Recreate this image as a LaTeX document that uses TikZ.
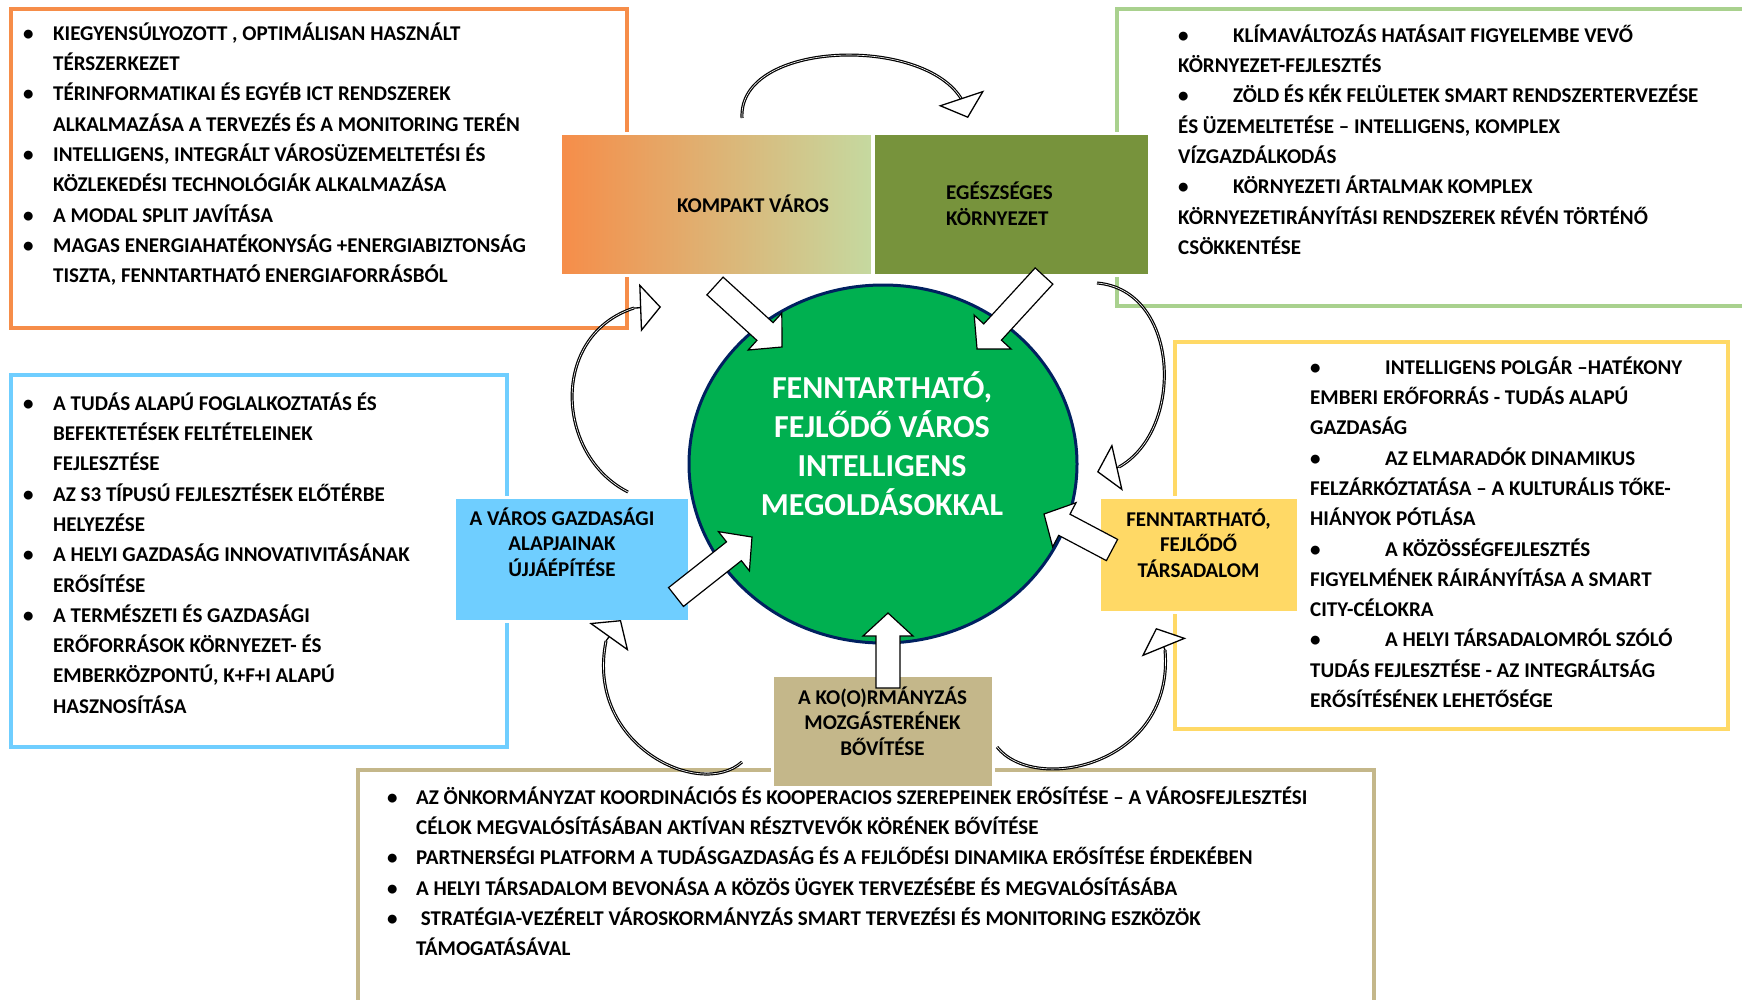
\documentclass[tikz,border=0pt]{standalone}
\usepackage{fontspec}
\setmainfont{Carlito}
\usetikzlibrary{calc,arrows.meta,shapes.geometric}

\definecolor{orng}{RGB}{246,141,73}
\definecolor{paleg}{RGB}{197,217,160}
\definecolor{leafg}{RGB}{119,147,60}
\definecolor{frameg}{RGB}{169,209,142}
\definecolor{skyb}{RGB}{111,206,255}
\definecolor{sunny}{RGB}{255,217,102}
\definecolor{sand}{RGB}{196,183,138}
\definecolor{ringg}{RGB}{0,176,80}
\definecolor{ringb}{RGB}{0,32,96}

\newcommand\bul[1]{\rule{0pt}{20pt}\makebox[#1][l]{\textbullet}}
\newcommand\indnt[1]{\hspace*{#1}}
\newcommand\topstr[1]{\rule{0pt}{#1}}
\newcommand\botstr[1]{\rule[-#1]{0pt}{#1}}
\newcommand\blockarr[2]{%
  \path let \p1=($(#2)-(#1)$) in
    \pgfextra{\pgfmathsetmacro\arrang{atan2(\y1,\x1)}%
              \pgfmathsetmacro\arrlen{veclen(\x1,\y1)}%
              \global\let\arrang\arrang \global\let\arrlen\arrlen};
  \draw[blockarrow,shift={(#1)},rotate=\arrang]
    (0pt,-12pt) -- (\arrlen pt-23pt,-12pt) -- (\arrlen pt-23pt,-25pt) -- (\arrlen pt,0pt)
    -- (\arrlen pt-23pt,25pt) -- (\arrlen pt-23pt,12pt) -- (0pt,12pt) -- cycle;}

\begin{document}
\begin{tikzpicture}[x=1pt,y=-1pt,
  frame/.style={line width=3.5pt},
  lista/.style={anchor=north west,inner sep=0pt,align=left,
    font=\fontsize{21}{30.3}\selectfont\bfseries},
  tile/.style={draw=white,line width=3pt,inner sep=0pt},
  tiletext/.style={inner sep=0pt,font=\fontsize{21}{25.5}\selectfont\bfseries},
  blockarrow/.style={draw=black,fill=white,line width=1.2pt,line join=miter},
  loopline/.style={draw=black,line width=1.2pt,double=white,double distance=.6pt},
  loophead/.style={line width=1.3pt,-{Triangle[length=21pt,width=48pt,fill=white]}}]
\useasboundingbox (0,0) rectangle (1742,999);

\draw[frame,orng] (11,9) rectangle (627,328);
\draw[frame,frameg] (1117,9) rectangle (1770,306);
\draw[frame,sunny] (1175,342) rectangle (1728,729);
\draw[frame,skyb] (11,375) rectangle (507,747);
\draw[frame,sand] (358,770) rectangle (1374,1020);

\node (kompakt) [tile,minimum width=312pt,minimum height=142pt,left color=orng,right color=paleg,
  label={[tiletext,xshift=36.5pt,yshift=-1.5pt]center:{\topstr{20pt}KOMPAKT VÁROS\botstr{7pt}}}]
  at (716.5,204) {};
\node (egesz) [tile,fill=leafg,minimum width=276pt,minimum height=142pt,
  label={[tiletext,align=left,xshift=-12pt,yshift=-2pt]center:{\topstr{20pt}EGÉSZSÉGES\\KÖRNYEZET\botstr{7pt}}}]
  at (1011.5,204) {};
\node (gazdasag) [tile,fill=skyb,minimum width=235pt,minimum height=124pt,
  label={[tiletext,align=center,xshift=-9.5pt,yshift=15pt]center:{\topstr{20pt}A VÁROS GAZDASÁGI\\ALAPJAINAK\\ÚJJÁÉPÍTÉSE\botstr{7pt}}}]
  at (571.5,559) {};
\node (tarsad) [tile,fill=sunny,minimum width=199pt,minimum height=115pt,
  label={[tiletext,align=center,yshift=9.5pt]center:{\topstr{20pt}FENNTARTHATÓ,\\FEJLŐDŐ\\TÁRSADALOM\botstr{7pt}}}]
  at (1198.5,554.5) {};
\node (kormany) [tile,fill=sand,minimum width=221pt,minimum height=112pt,
  label={[tiletext,align=center,yshift=8pt]center:{\topstr{20pt}A KO(O)RMÁNYZÁS\\MOZGÁSTERÉNEK\\BŐVÍTÉSE\botstr{7pt}}}]
  at (882.5,731) {};

\node (ring) [ellipse,draw=ringb,line width=3pt,fill=ringg,minimum width=388pt,minimum height=358pt,inner sep=0pt,
  label={[inner sep=0pt,text=white,font=\fontsize{32}{39}\selectfont\bfseries,align=center,xshift=-1pt,yshift=18pt]center:{\topstr{30pt}FENNTARTHATÓ,\\FEJLŐDŐ VÁROS\\INTELLIGENS\\MEGOLDÁSOKKAL\botstr{9pt}}}]
  at (883,464) {};

\path (kompakt.center) +(-1.5,82) coordinate (kvo);
\path (ring.center) +(-101,-117) coordinate (kvi);
\blockarr{kvo}{kvi}
\path (egesz.center) +(32.5,72) coordinate (ego);
\path (ring.center) +(94,-115) coordinate (egi);
\blockarr{ego}{egi}
\path (gazdasag.center) +(104.5,38) coordinate (gzo);
\path (ring.center) +(-131,73) coordinate (gzi);
\blockarr{gzo}{gzi}
\path (tarsad.center) +(-86.5,-4.5) coordinate (tso);
\path (ring.center) +(161,50) coordinate (tsi);
\blockarr{tso}{tsi}
\path (kormany.center) +(5.5,-43) coordinate (kro);
\path (ring.center) +(5,149) coordinate (kri);
\blockarr{kro}{kri}

\path (kompakt.center) +(25.5,-86) coordinate (kvu);
\path (egesz.center) +(-49.5,-104) coordinate (egu);
\path (egesz.center) +(-43.5,-86) coordinate (egt);
\draw[loopline] (kvu) .. controls +(-4,-78) and +(-37,-65) .. (egu);
\draw[loophead] (egu) -- (egt);
\path (egesz.center) +(85.5,79) coordinate (egr);
\path (tarsad.center) +(-79.5,-87.5) coordinate (tsu);
\path (tarsad.center) +(-101.5,-82.5) coordinate (tst);
\draw[loopline] (egr) .. controls +(83,7) and +(66,-37) .. (tsu);
\draw[loophead] (tsu) -- (tst);
\path (kormany.center) +(114.5,16) coordinate (krr);
\path (tarsad.center) +(-33.5,95.5) coordinate (tsl);
\path (tarsad.center) +(-42.5,73.5) coordinate (tsm);
\draw[loopline] (krr) .. controls +(38,48) and +(10,115) .. (tsl);
\draw[loophead] (tsl) -- (tsm);
\path (kormany.center) +(-140.5,31) coordinate (krl);
\path (gazdasag.center) +(34.5,82) coordinate (gzl);
\path (gazdasag.center) +(49.5,61) coordinate (gzm);
\draw[loopline] (krl) .. controls +(-42,38) and +(-21,104) .. (gzl);
\draw[loophead] (gzl) -- (gzm);
\path (gazdasag.center) +(56.5,-67) coordinate (gzu);
\path (kompakt.center) +(-82.5,104) coordinate (kvl);
\path (kompakt.center) +(-55.5,103) coordinate (kvm);
\draw[loopline] (gzu) .. controls +(-73,-37) and +(-84,27) .. (kvl);
\draw[loophead] (kvl) -- (kvm);

\node (kvlista) [lista] at (23,20) {\bul{30pt}KIEGYENSÚLYOZOTT , OPTIMÁLISAN HASZNÁLT\\
  \indnt{30pt}TÉRSZERKEZET\\
  \bul{30pt}TÉRINFORMATIKAI ÉS  EGYÉB ICT RENDSZEREK\\
  \indnt{30pt}ALKALMAZÁSA A TERVEZÉS ÉS A MONITORING TERÉN\\
  \bul{30pt}INTELLIGENS, INTEGRÁLT VÁROSÜZEMELTETÉSI  ÉS\\
  \indnt{30pt}KÖZLEKEDÉSI TECHNOLÓGIÁK ALKALMAZÁSA\\
  \bul{30pt}A MODAL SPLIT JAVÍTÁSA\\
  \bul{30pt}MAGAS ENERGIAHATÉKONYSÁG +ENERGIABIZTONSÁG\\
  \indnt{30pt}TISZTA, FENNTARTHATÓ ENERGIAFORRÁSBÓL};
\node (eglista) [lista] at (1178,22) {\bul{55pt}KLÍMAVÁLTOZÁS HATÁSAIT FIGYELEMBE VEVŐ\\
  KÖRNYEZET-FEJLESZTÉS\\
  \bul{55pt}ZÖLD ÉS KÉK FELÜLETEK SMART RENDSZERTERVEZÉSE\\
  ÉS ÜZEMELTETÉSE – INTELLIGENS, KOMPLEX\\
  VÍZGAZDÁLKODÁS\\
  \bul{55pt}KÖRNYEZETI ÁRTALMAK KOMPLEX\\
  KÖRNYEZETIRÁNYÍTÁSI RENDSZEREK RÉVÉN TÖRTÉNŐ\\
  CSÖKKENTÉSE};
\node (tslista) [lista] at (1310,354) {\bul{75pt}INTELLIGENS POLGÁR –HATÉKONY\\
  EMBERI ERŐFORRÁS - TUDÁS ALAPÚ\\
  GAZDASÁG\\
  \bul{75pt}AZ ELMARADÓK DINAMIKUS\\
  FELZÁRKÓZTATÁSA – A KULTURÁLIS TŐKE-\\
  HIÁNYOK PÓTLÁSA\\
  \bul{75pt}A KÖZÖSSÉGFEJLESZTÉS\\
  FIGYELMÉNEK RÁIRÁNYÍTÁSA A SMART\\
  CITY-CÉLOKRA\\
  \bul{75pt}A HELYI TÁRSADALOMRÓL SZÓLÓ\\
  TUDÁS FEJLESZTÉSE -  AZ INTEGRÁLTSÁG\\
  ERŐSÍTÉSÉNEK LEHETŐSÉGE};
\node (gzlista) [lista] at (23,390) {\bul{30pt}A TUDÁS ALAPÚ FOGLALKOZTATÁS  ÉS\\
  \indnt{30pt}BEFEKTETÉSEK FELTÉTELEINEK\\
  \indnt{30pt}FEJLESZTÉSE\\
  \bul{30pt}AZ S3 TÍPUSÚ FEJLESZTÉSEK ELŐTÉRBE\\
  \indnt{30pt}HELYEZÉSE\\
  \bul{30pt}A HELYI GAZDASÁG INNOVATIVITÁSÁNAK\\
  \indnt{30pt}ERŐSÍTÉSE\\
  \bul{30pt}A TERMÉSZETI ÉS GAZDASÁGI\\
  \indnt{30pt}ERŐFORRÁSOK KÖRNYEZET- ÉS\\
  \indnt{30pt}EMBERKÖZPONTÚ, K+F+I ALAPÚ\\
  \indnt{30pt}HASZNOSÍTÁSA};
\node (krlista) [lista] at (387,784) {\bul{29pt}AZ ÖNKORMÁNYZAT KOORDINÁCIÓS ÉS KOOPERACIOS SZEREPEINEK ERŐSÍTÉSE – A VÁROSFEJLESZTÉSI\\
  \indnt{29pt}CÉLOK MEGVALÓSÍTÁSÁBAN AKTÍVAN RÉSZTVEVŐK KÖRÉNEK BŐVÍTÉSE\\
  \bul{29pt}PARTNERSÉGI PLATFORM A TUDÁSGAZDASÁG ÉS A FEJLŐDÉSI DINAMIKA ERŐSÍTÉSE ÉRDEKÉBEN\\
  \bul{29pt}A HELYI TÁRSADALOM BEVONÁSA A KÖZÖS ÜGYEK TERVEZÉSÉBE ÉS MEGVALÓSÍTÁSÁBA\\
  \bul{29pt}\ STRATÉGIA-VEZÉRELT VÁROSKORMÁNYZÁS SMART TERVEZÉSI ÉS MONITORING ESZKÖZÖK\\
  \indnt{29pt}TÁMOGATÁSÁVAL};
\end{tikzpicture}
\end{document}
